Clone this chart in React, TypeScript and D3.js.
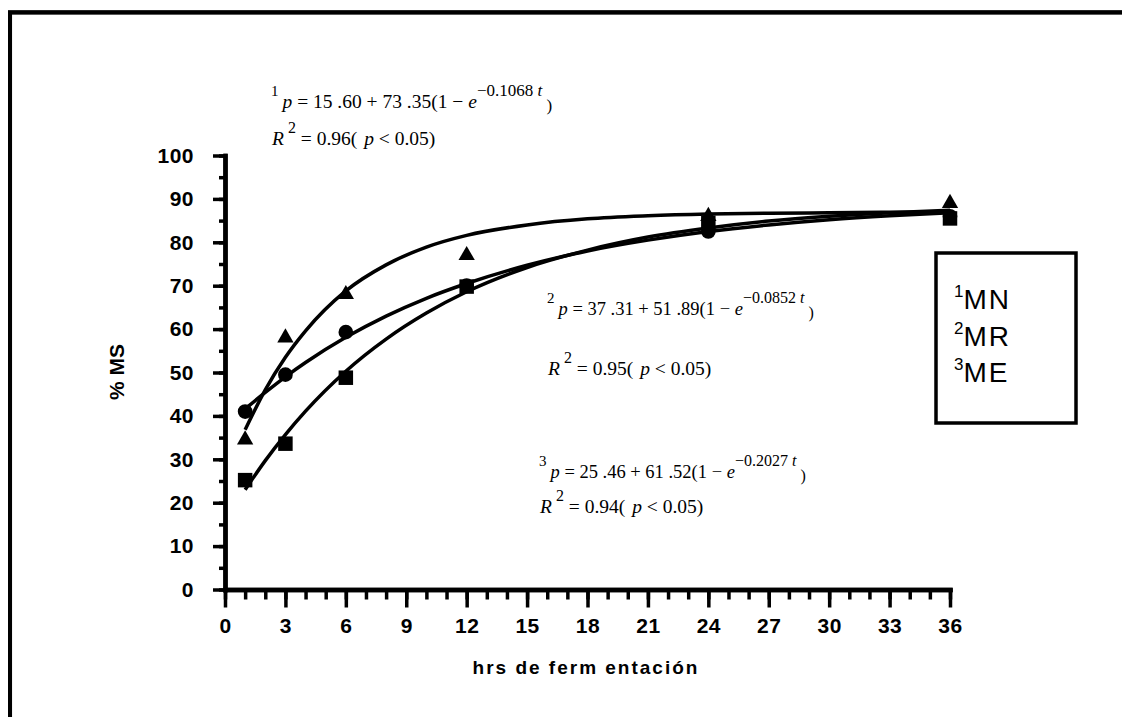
import React, { useRef, useEffect } from "react";
import * as d3 from "d3";

// observed points (hours of fermentation vs % MS)
const hours = [1, 3, 6, 12, 24, 36];
const triangleVals = [34.5, 58, 68, 77, 86, 89];
const circleVals = [41, 49.5, 59.3, 70, 82.5, 86];
const squareVals = [25.2, 33.6, 48.8, 69.8, 84.5, 85.5];

// fitted curves
const curveHours = [1, 2, 3, 4, 6, 8, 10, 12, 15, 18, 21, 24, 27, 30, 33, 36];
const curveTriangle = [36.8, 46.0, 53.5, 59.6, 68.8, 74.8, 78.9, 81.6, 84.0, 85.4, 86.1, 86.5, 86.7, 86.8, 86.9, 86.9];
const curveCircle = [41.6, 45.4, 49.0, 52.3, 58.1, 63.0, 67.1, 70.5, 74.7, 78.0, 80.5, 82.5, 84.0, 85.2, 86.1, 86.8];
const curveSquare = [23.0, 29.7, 35.7, 41.1, 50.3, 57.7, 63.7, 68.6, 74.2, 78.2, 81.2, 83.3, 84.9, 86.0, 86.8, 87.4];

const xTicks = d3.range(0, 37, 3);
const xMinorTicks = d3.range(0, 37, 1);
const yTicks = d3.range(0, 101, 10);
const yMinorTicks = d3.range(0, 101, 5);

const legendIdx = ["1", "2", "3"];
const legendNames = ["MN", "MR", "ME"];

const eqIdx = ["1", "2", "3"];
const eqA = ["15 .60", "37 .31", "25 .46"];
const eqB = ["73 .35", "51 .89", "61 .52"];
const eqK = ["\u22120.1068", "\u22120.0852", "\u22120.2027"];
const eqR2 = ["0.96", "0.95", "0.94"];

const width = 1130;
const height = 725;

const Chart = () => {
  const svgRef = useRef<SVGSVGElement>(null);

  useEffect(() => {
    const svg = d3.select(svgRef.current);
    svg.selectAll("*").remove();

    const x = d3.scaleLinear().domain([0, 36]).range([225, 950]);
    const y = d3.scaleLinear().domain([0, 100]).range([589.5, 155.5]);

    // outer frame (runs off right/bottom edge)
    svg
      .append("rect")
      .attr("x", 9.8)
      .attr("y", 12.4)
      .attr("width", 1200)
      .attr("height", 800)
      .attr("fill", "none")
      .attr("stroke", "#000")
      .attr("stroke-width", 4.5);

    const bold = "'Liberation Sans', Arial, sans-serif";

    // minor ticks
    const xMinor = svg
      .append("g")
      .attr("transform", `translate(0, ${y(0)})`)
      .call(d3.axisBottom(x).tickValues(xMinorTicks).tickSize(10).tickSizeOuter(0).tickFormat(() => ""));
    const yMinor = svg
      .append("g")
      .attr("transform", `translate(${x(0)}, 0)`)
      .call(d3.axisLeft(y).tickValues(yMinorTicks).tickSize(6).tickSizeOuter(0).tickFormat(() => ""));

    const xAxis = svg
      .append("g")
      .attr("transform", `translate(0, ${y(0)})`)
      .call(d3.axisBottom(x).tickValues(xTicks).tickSize(18).tickSizeOuter(0).tickPadding(11));
    const yAxis = svg
      .append("g")
      .attr("transform", `translate(${x(0)}, 0)`)
      .call(d3.axisLeft(y).tickValues(yTicks).tickSize(12).tickSizeOuter(0).tickPadding(19));

    [xMinor, yMinor, xAxis, yAxis].forEach((g) => {
      g.selectAll("line").attr("stroke", "#000").attr("stroke-width", 3.5);
      g.select(".domain").attr("stroke", "#000").attr("stroke-width", 4.4).attr("stroke-linecap", "square");
      g.selectAll("text")
        .attr("fill", "#000")
        .attr("font-family", bold)
        .attr("font-weight", "bold")
        .attr("font-size", 21)
        .attr("letter-spacing", 0.5);
    });
    xAxis.selectAll("text").attr("dy", "0.71em");

    // axis titles
    svg
      .append("text")
      .attr("x", 586)
      .attr("y", 674)
      .attr("text-anchor", "middle")
      .attr("font-family", bold)
      .attr("font-weight", "bold")
      .attr("font-size", 19)
      .attr("letter-spacing", 2)
      .text("hrs de ferm entación");
    svg
      .append("text")
      .attr("transform", `translate(124, 372) rotate(-90)`)
      .attr("text-anchor", "middle")
      .attr("font-family", bold)
      .attr("font-weight", "bold")
      .attr("font-size", 21)
      .text("% MS");

    // fitted curves
    const line = d3
      .line<number>()
      .x((_, i) => x(curveHours[i]))
      .y((d) => y(d))
      .curve(d3.curveMonotoneX);
    [curveTriangle, curveCircle, curveSquare].forEach((c) => {
      svg
        .append("path")
        .datum(c)
        .attr("fill", "none")
        .attr("stroke", "#000")
        .attr("stroke-width", 3.5)
        .attr("d", line);
    });

    // markers
    const series = [
      { vals: circleVals, sym: d3.symbol().type(d3.symbolCircle).size(170) },
      { vals: squareVals, sym: d3.symbol().type(d3.symbolSquare).size(210) },
      { vals: triangleVals, sym: d3.symbol().type(d3.symbolTriangle).size(115) },
    ];
    series.forEach((s) => {
      svg
        .append("g")
        .selectAll("path")
        .data(s.vals)
        .join("path")
        .attr("transform", (d, i) => `translate(${x(hours[i])}, ${y(d)})`)
        .attr("d", s.sym as any)
        .attr("fill", "#000");
    });

    // legend
    svg
      .append("rect")
      .attr("x", 936)
      .attr("y", 253)
      .attr("width", 140)
      .attr("height", 170)
      .attr("fill", "#fff")
      .attr("stroke", "#000")
      .attr("stroke-width", 3.5);
    legendNames.forEach((n, i) => {
      const t = svg
        .append("text")
        .attr("x", 954)
        .attr("y", 309 + i * 36.5)
        .attr("font-family", bold)
        .attr("font-size", 28);
      t.append("tspan").attr("font-size", 17).attr("dy", -12).text(legendIdx[i]);
      t.append("tspan").attr("dy", 12).attr("letter-spacing", 2).text(n);
    });

    // equations
    const eqPos = [
      { x: 271, y: 108, ry: 145, fs: 19.5 },
      { x: 547, y: 315, ry: 375, fs: 18.5 },
      { x: 539, y: 478, ry: 513, fs: 18.5 },
    ];
    const serif = "'Liberation Serif', 'Times New Roman', serif";
    eqPos.forEach((p, i) => {
      const t = svg
        .append("text")
        .attr("x", p.x)
        .attr("y", p.y)
        .attr("font-family", serif)
        .attr("font-size", p.fs);
      t.append("tspan").attr("font-size", 15).attr("dy", -12).text(eqIdx[i]);
      t.append("tspan").attr("dy", 12).attr("dx", 4).attr("font-style", "italic").text("p");
      t.append("tspan").text(` = ${eqA[i]} + ${eqB[i]}(1 \u2212 `);
      t.append("tspan").attr("font-style", "italic").text("e");
      t.append("tspan").attr("dy", -12).attr("font-size", p.fs - 2.5).text(`${eqK[i]} `);
      t.append("tspan").attr("font-size", p.fs - 2.5).attr("font-style", "italic").text("t");
      t.append("tspan").attr("dy", 15).attr("font-size", p.fs - 2.5).text(" )");

      const r = svg
        .append("text")
        .attr("x", p.x + 1)
        .attr("y", p.ry)
        .attr("font-family", serif)
        .attr("font-size", 19.5);
      r.append("tspan").attr("font-style", "italic").text("R");
      r.append("tspan").attr("dy", -12).attr("dx", 4).attr("font-size", 16).text("2");
      r.append("tspan").attr("dy", 12).text(` = ${eqR2[i]}( `);
      r.append("tspan").attr("font-style", "italic").attr("dx", 2).text("p");
      r.append("tspan").text(" < 0.05)");
    });
  }, []);

  return <svg ref={svgRef} width={width} height={height} style={{ display: "block" }} />;
};

export default function App() {
  return (
    <div style={{ margin: -8 }}>
      <Chart />
    </div>
  );
}
